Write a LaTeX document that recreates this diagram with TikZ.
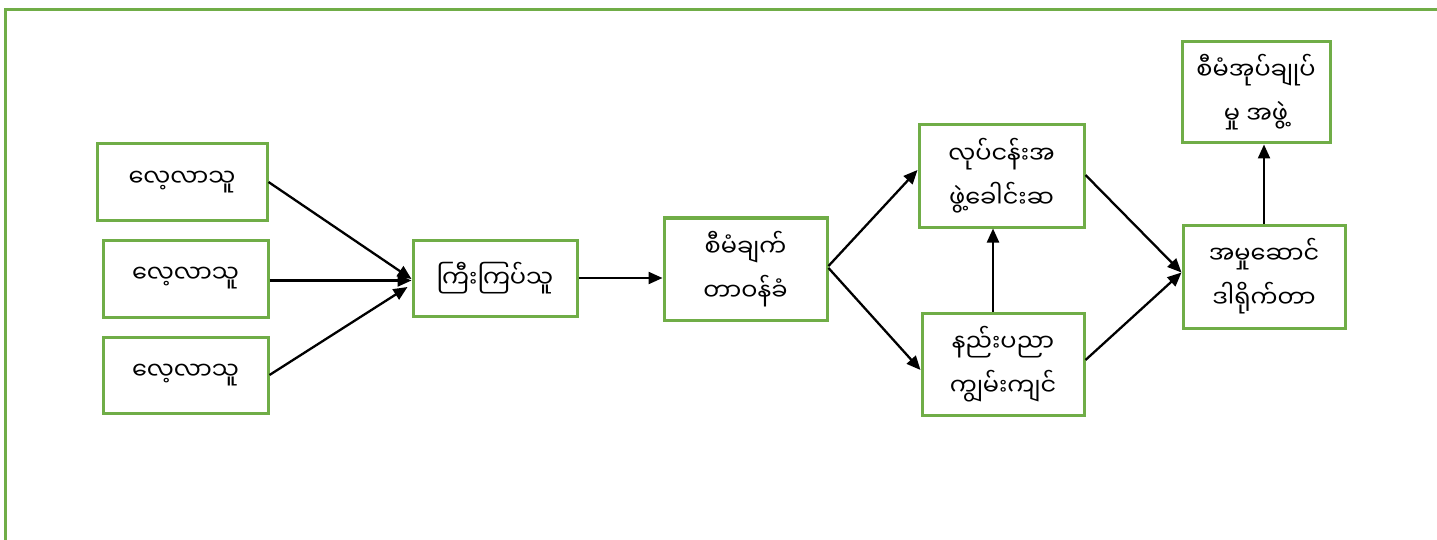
\documentclass[tikz,border=0pt]{standalone}
\usepackage{fontspec}
\newfontfamily\mya[Script=Myanmar]{Noto Sans Myanmar UI}
\usetikzlibrary{arrows.meta}
\definecolor{boxgreen}{RGB}{112,173,71}
\begin{document}
\begin{tikzpicture}[x=1pt,y=-1pt,
  box/.style={draw=boxgreen,line width=3.0pt,fill=white,align=center,inner sep=0pt,
    font=\mya\fontsize{24}{44}\selectfont},
  arr/.style={draw=black,line width=2.3pt,-{Triangle[length=14pt,width=12pt]}}]
\useasboundingbox (0,0) rectangle (1437,540);
\begin{scope}
\clip (0,0) rectangle (1437,540);
\draw[boxgreen,line width=3.0pt] (5,10) rectangle (1460,570);
\end{scope}
\node[box,minimum width=170pt,minimum height=76pt] (L1) at (182,182) {လေ့လာသူ};
\node[box,minimum width=165pt,minimum height=77pt] (L2) at (185.5,278.5) {လေ့လာသူ};
\node[box,minimum width=165pt,minimum height=76pt] (L3) at (185.5,375) {လေ့လာသူ};
\node[box,minimum width=164pt,minimum height=76pt] (K) at (495,278) {ကြီးကြပ်သူ};
\node[box,minimum width=163pt,minimum height=102pt] (S) at (745.5,269) {စီမံချက်\\တာဝန်ခံ};
\node[box,minimum width=165pt,minimum height=102pt] (LA) at (1001.5,176) {လုပ်ငန်းအ\\ဖွဲ့ခေါင်းဆ};
\node[box,minimum width=162pt,minimum height=102pt] (N) at (1003,364) {နည်းပညာ\\ကျွမ်းကျင်};
\node[box,minimum width=148pt,minimum height=101pt] (SA) at (1256,92.5) {စီမံအုပ်ချုပ်\\မှု~အဖွဲ့};
\node[box,minimum width=162pt,minimum height=103pt] (AM) at (1264,276.5) {အမှုဆောင်\\ဒါရိုက်တာ};
\draw[arr] (L1.east) -- ([yshift=-1pt]K.west);
\draw[arr] ([yshift=-2pt]L2.east) -- ([yshift=-2pt]L2.east -| K.west);
\draw[arr] (L3.east) -- ([yshift=-9pt,xshift=-4pt]K.west);
\draw[arr] (K.east) -- (K.east -| S.west);
\draw[arr] ([yshift=3pt]S.east) -- ([yshift=6pt]LA.west);
\draw[arr] ([yshift=1pt]S.east) -- ([yshift=-6pt]N.west);
\draw[arr] ([xshift=-10pt]N.north) -- ([xshift=-10pt]N.north |- LA.south);
\draw[arr] ([yshift=1pt]LA.east) -- ([yshift=4pt]AM.west);
\draw[arr] ([yshift=4pt]N.east) -- ([yshift=4pt]AM.west);
\draw[arr] (AM.north) -- (AM.north |- SA.south);
\end{tikzpicture}
\end{document}
